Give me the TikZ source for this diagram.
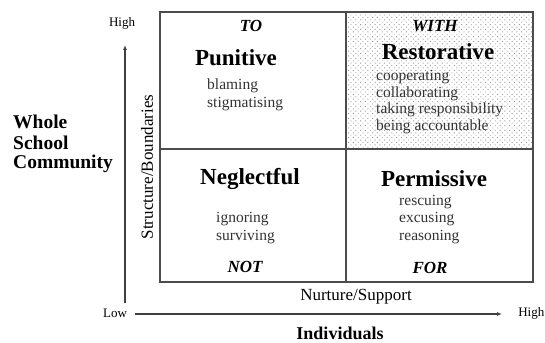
\documentclass[tikz,border=0pt]{standalone}
\usepackage{fontspec}
\setmainfont{Liberation Serif}
\usetikzlibrary{arrows.meta,patterns.meta}
\tikzset{
  quadline/.style={draw=black!70, line width=1.3pt},
  axisline/.style={draw=black!75, line width=1.1pt, -{Latex[length=5pt,width=4pt]}},
  title/.style={font=\bfseries\fontsize{23}{26}\selectfont, inner sep=0pt},
  mode/.style={font=\bfseries\itshape\fontsize{17}{19}\selectfont, inner sep=0pt},
  item/.style={font=\fontsize{15.5}{17}\selectfont, text=black!80, inner sep=0pt, anchor=west},
  axlabel/.style={font=\fontsize{17}{19}\selectfont, inner sep=0pt},
  hilo/.style={font=\fontsize{13}{15}\selectfont, inner sep=0pt},
  biglabel/.style={font=\bfseries\fontsize{19.5}{21}\selectfont, inner sep=0pt}
}
\begin{document}
\begin{tikzpicture}[x=1pt,y=-1pt]
\clip (0,0) rectangle (545,342);
\fill[white] (0,0) rectangle (545,342);
% shaded quadrant
\fill[pattern={Dots[distance=3.4pt, radius=0.65pt, angle=45]}, pattern color=black!40] (346,12) rectangle (533,149);
% grid
\draw[quadline] (160,12) rectangle (533,282);
\draw[quadline] (346,12) -- (346,282);
\draw[quadline] (160,149) -- (533,149);
% axes
\coordinate (vstart) at (125,303);
\coordinate (vend) at (125,45);
\coordinate (hstart) at (135,314);
\coordinate (hend) at (502,314);
\draw[axisline] (vstart) -- (vend);
\draw[axisline] (hstart) -- (hend);
\node[hilo] (hightop) at (122,23) {High};
\node[hilo] (low) at (115,313) {Low};
\node[hilo, anchor=east] (highright) at (544.5,313) {High};
\node[axlabel] (nurture) at (356,297) {Nurture/Support};
\node[font=\bfseries\fontsize{18}{20}\selectfont, inner sep=0pt] (indiv) at (340,333) {Individuals};
\node[axlabel, rotate=90] (struct) at (147,167) {Structure/Boundaries};
\node[biglabel, anchor=west] (whole) at (13,122) {Whole};
\node[biglabel, anchor=west] (school) at (13,143) {School};
\node[biglabel, anchor=west] (community) at (13,164) {Community};
% top-left
\node[mode] (to) at (251,26) {TO};
\node[title] (punitive) at (236,58) {Punitive};
\node[item] (blaming) at (207,86) {blaming};
\node[item] (stig) at (207,104) {stigmatising};
% top-right
\node[mode] (with) at (435,26) {WITH};
\node[title] (restorative) at (438,52) {Restorative};
\node[item] (coop) at (376,77) {cooperating};
\node[item] (collab) at (376,94) {collaborating};
\node[item] (taking) at (376,110) {taking responsibility};
\node[item] (being) at (376,127) {being accountable};
% bottom-left
\node[title] (neglectful) at (250,179) {Neglectful};
\node[item] (ignoring) at (216,219) {ignoring};
\node[item] (surviving) at (216,237) {surviving};
\node[mode] (not) at (245,267) {NOT};
% bottom-right
\node[title] (permissive) at (434,179) {Permissive};
\node[item] (rescuing) at (399,202) {rescuing};
\node[item] (excusing) at (399,219) {excusing};
\node[item] (reasoning) at (399,237) {reasoning};
\node[mode] (for) at (430,268) {FOR};
\end{tikzpicture}
\end{document}
